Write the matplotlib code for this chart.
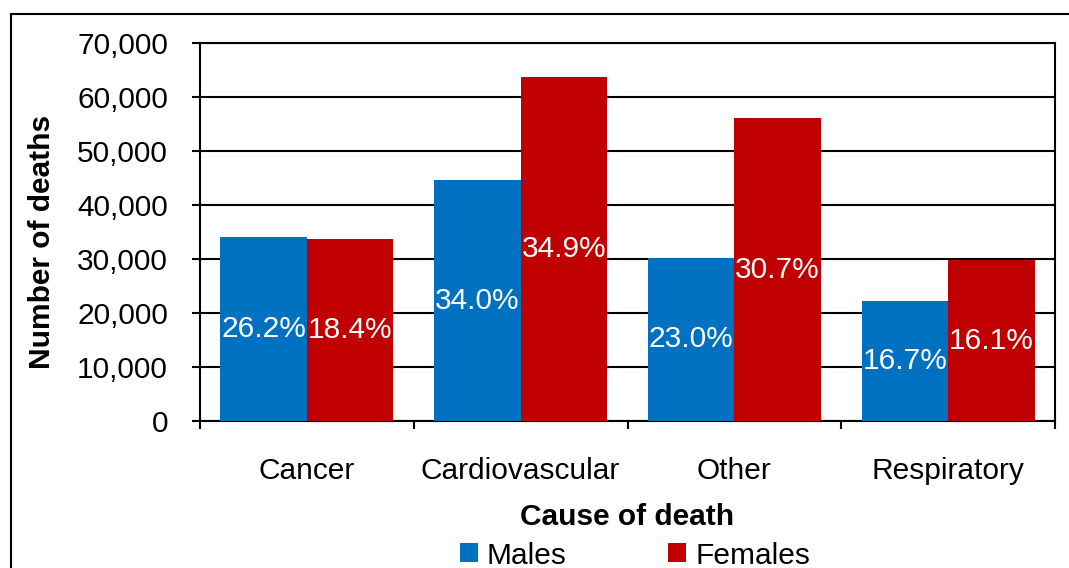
import numpy as np
import matplotlib.pyplot as plt
from matplotlib.patches import Rectangle
from matplotlib.ticker import FuncFormatter

# Data
causes = ["Cancer", "Cardiovascular", "Other", "Respiratory"]
males = [34100, 44600, 30200, 22200]
females = [33700, 63700, 56100, 29800]
males_pct = ["26.2%", "34.0%", "23.0%", "16.7%"]
females_pct = ["18.4%", "34.9%", "30.7%", "16.1%"]

plt.rcParams["font.family"] = ["Liberation Sans", "DejaVu Sans"]

blue = "#0070C0"
red = "#C00000"
fs = 21.5

fig = plt.figure(figsize=(10.69, 5.68), dpi=100)
ax = fig.add_axes([200 / 1069, 147 / 568, 855 / 1069, 378 / 568])

x = np.arange(len(causes))
w = 0.405
b1 = ax.bar(x - w / 2, males, w, color=blue, label="Males", zorder=3)
b2 = ax.bar(x + w / 2, females, w, color=red, label="Females", zorder=3)

lab_font = dict(color="white", fontsize=21.5, family=["Liberation Sans Narrow", "Liberation Sans"])
ax.bar_label(b1, labels=males_pct, label_type="center", **lab_font)
ax.bar_label(b2, labels=females_pct, label_type="center", **lab_font)

ax.set_xlim(-0.5, len(causes) - 0.5)
ax.set_ylim(0, 70000)
ax.set_yticks(np.arange(0, 70001, 10000))
ax.yaxis.set_major_formatter(FuncFormatter(lambda v, p: f"{int(v):,}"))
ax.grid(axis="y", color="black", linewidth=1.5, zorder=0)
ax.set_axisbelow(True)

ax.set_xticks(x)
ax.set_xticklabels(causes)
ax.set_xticks(np.arange(-0.5, len(causes), 1.0), minor=True)
ax.tick_params(axis="x", which="major", length=0, pad=26, labelsize=fs)
ax.tick_params(axis="x", which="minor", length=6, width=1.5, direction="out")
ax.tick_params(axis="y", length=6, width=1.5, pad=17, labelsize=fs)

for s in ax.spines.values():
    s.set_linewidth(1.5)
    s.set_color("black")

ax.set_xlabel("Cause of death", fontsize=fs, fontweight="bold", labelpad=13)
fig.text(42 / 1069, 1 - 242 / 568, "Number of deaths", rotation=90, fontsize=fs,
         fontweight="bold", ha="center", va="center")

fig.legend(handles=[b1, b2], loc="center", bbox_to_anchor=(0.594, 0.022), ncol=2,
           frameon=False, fontsize=fs, handlelength=0.6, handleheight=0.6,
           handletextpad=0.3, columnspacing=3.4)

fig.patches.append(Rectangle((11 / 1069, -0.1), 1.2, 1 - 14 / 568 + 0.1,
                             transform=fig.transFigure, fill=False,
                             edgecolor="black", linewidth=1.5))

fig.savefig("out.png", dpi=100)
